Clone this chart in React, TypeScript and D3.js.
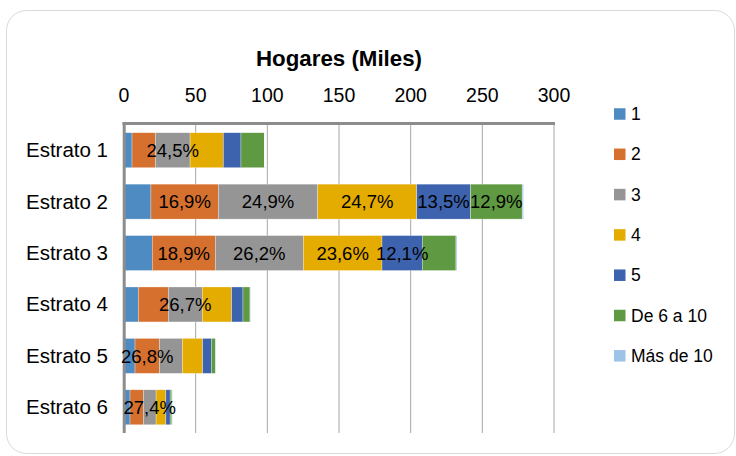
import React from "react";
import * as d3 from "d3";

const categories = ["Estrato 1", "Estrato 2", "Estrato 3", "Estrato 4", "Estrato 5", "Estrato 6"];
const seriesNames = ["1", "2", "3", "4", "5", "De 6 a 10", "Más de 10"];
const s1 = [5.6, 18.8, 19.7, 10.0, 7.7, 4.2];
const s2 = [16.3, 47.0, 44.0, 20.9, 17.0, 9.3];
const s3 = [24.2, 69.4, 61.4, 23.7, 16.0, 8.9];
const s4 = [23.2, 69.0, 54.9, 20.5, 14.2, 6.8];
const s5 = [12.3, 37.5, 28.1, 7.9, 6.0, 3.0];
const s6 = [16.3, 36.1, 23.5, 4.9, 2.8, 1.2];
const s7 = [0.3, 0.9, 0.7, 0.3, 0.2, 0.3];
const seriesValues = [s1, s2, s3, s4, s5, s6, s7];
const labels2 = ["", "16,9%", "18,9%", "", "26,8%", ""];
const labels3 = ["24,5%", "24,9%", "26,2%", "26,7%", "", "27,4%"];
const labels4 = ["", "24,7%", "23,6%", "", "", ""];
const labels5 = ["", "13,5%", "12,1%", "", "", ""];
const labels6 = ["", "12,9%", "", "", "", ""];
const seriesLabels = [null, labels2, labels3, labels4, labels5, labels6, null];
const xTicks = [0, 50, 100, 150, 200, 250, 300];
const colors = ["#4F8BC3", "#D6702E", "#959595", "#E4AB00", "#3D63AE", "#5F9A42", "#9DC3E6"];

const FONT = "'Liberation Sans', Arial, sans-serif";

export default function App() {
  const x = d3.scaleLinear().domain([0, 300]).range([124, 554]);
  const y = d3
    .scaleBand<string>()
    .domain(categories)
    .range([124.5, 433])
    .paddingInner(0.32)
    .paddingOuter(0.16);

  const rows = categories.map((c, i) => {
    const r: any = { cat: c };
    seriesNames.forEach((s, j) => (r[s] = seriesValues[j][i]));
    return r;
  });
  const stacked = d3.stack<any>().keys(seriesNames)(rows);
  const bw = y.bandwidth();

  return (
    <svg
      width={736}
      height={456}
      style={{ position: "absolute", left: 0, top: 0, background: "#fff" }}
      fontFamily={FONT}
    >
      <rect x={6.5} y={10.5} width={728} height={443} rx={20} fill="#fff" stroke="#d9d9d9" />
      <text x={339} y={66} textAnchor="middle" fontWeight="bold" fontSize={22.3} fill="#000">
        Hogares (Miles)
      </text>
      {xTicks.map((t) => (
        <g key={t}>
          <text x={x(t)} y={101.5} textAnchor="middle" fontSize={19.5} fill="#000">
            {t}
          </text>
          {t > 0 && <line x1={x(t)} x2={x(t)} y1={124} y2={433} stroke="#a6a6a6" strokeWidth={1} />}
        </g>
      ))}
      {stacked.map((layer, j) => (
        <g key={layer.key} fill={colors[j]}>
          {layer.map((d, i) => (
            <rect
              key={i}
              x={x(d[0])}
              y={y(categories[i])}
              width={Math.max(0, x(d[1]) - x(d[0]))}
              height={bw}
              stroke="#ffffff"
              strokeWidth={0.5}
              strokeOpacity={0.6}
            />
          ))}
        </g>
      ))}
      <line x1={122.5} x2={555} y1={123.5} y2={123.5} stroke="#8c8c8c" strokeWidth={3} />
      <line x1={124.2} x2={124.2} y1={122} y2={433} stroke="#8c8c8c" strokeWidth={3} />
      {stacked.map((layer, j) => {
        const lab = seriesLabels[j];
        if (!lab) return null;
        return (
          <g key={"l" + layer.key}>
            {layer.map((d, i) =>
              lab[i] ? (
                <text
                  key={i}
                  x={(x(d[0]) + x(d[1])) / 2}
                  y={(y(categories[i]) as number) + bw / 2 + 6.8}
                  textAnchor="middle"
                  fontSize={18.5}
                  fill="#000"
                >
                  {lab[i]}
                </text>
              ) : null
            )}
          </g>
        );
      })}
      {categories.map((c) => (
        <text
          key={c}
          x={108}
          y={(y(c) as number) + bw / 2 + 7}
          textAnchor="end"
          fontSize={20.5}
          fill="#000"
        >
          {c}
        </text>
      ))}
      {seriesNames.map((s, j) => {
        const cy = 114 + j * 40.3;
        return (
          <g key={s}>
            <rect x={614} y={cy - 5.75} width={11.5} height={11.5} fill={colors[j]} />
            <text x={631} y={cy + 6} fontSize={17.5} fill="#000">
              {s}
            </text>
          </g>
        );
      })}
    </svg>
  );
}
